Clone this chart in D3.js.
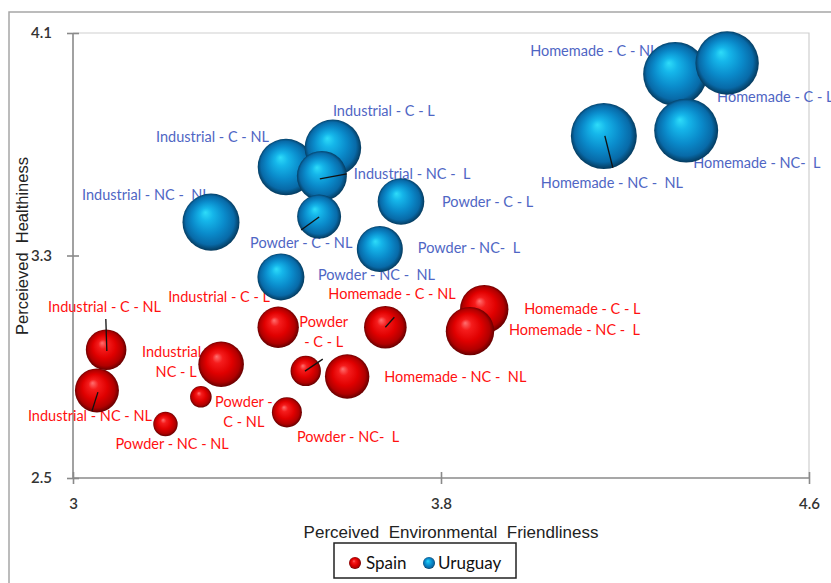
<!DOCTYPE html>
<html><head><meta charset="utf-8">
<script src="https://cdn.jsdelivr.net/npm/d3@7"></script>
<style>
body{margin:0;background:#fff}
svg{display:block}
text{white-space:pre}
</style>
</head><body>
<svg id="chart" width="831" height="583"></svg>
<script>
// ---------- DATA ----------
const categories = [
  "Industrial - C - NL", "Industrial - C - L", "Industrial - NC - NL", "Industrial - NC - L",
  "Powder - C - NL", "Powder - C - L", "Powder - NC - NL", "Powder - NC - L",
  "Homemade - C - NL", "Homemade - C - L", "Homemade - NC - NL", "Homemade - NC - L"
];
const seriesNames = ["Spain", "Uruguay"];

// Spain
const spainX    = [3.072, 3.446, 3.052, 3.322, 3.278, 3.506, 3.201, 3.465, 3.679, 3.894, 3.596, 3.863];
const spainY    = [2.961, 3.042, 2.815, 2.909, 2.792, 2.885, 2.694, 2.736, 3.042, 3.107, 2.865, 3.028];
const spainSize = [37.8, 39.3, 44.4, 47.7, 10.7, 21.2, 13.7, 20.7, 41.7, 53.8, 45.3, 53.8];
const spainLabels = [
  "Industrial - C - NL", "Industrial - C - L", "Industrial - NC - NL", "Industrial -\nNC - L",
  "Powder -\nC - NL", "Powder\n- C - L", "Powder - NC - NL", "Powder - NC-  L",
  "Homemade - C - NL", "Homemade - C - L", "Homemade - NC -  NL", "Homemade - NC -  L"
];

// Uruguay
const uruguayX    = [3.463, 3.565, 3.300, 3.541, 3.535, 3.713, 3.452, 3.667, 4.309, 4.422, 4.154, 4.333];
const uruguayY    = [3.618, 3.687, 3.420, 3.586, 3.440, 3.494, 3.223, 3.323, 3.953, 3.992, 3.730, 3.749];
const uruguaySize = [73.5, 73.5, 74.6, 57.4, 44.4, 49.9, 50.7, 48.6, 94.0, 92.3, 100.0, 94.0];
const uruguayLabels = [
  "Industrial - C - NL", "Industrial - C - L", "Industrial - NC -  NL", "Industrial - NC -  L",
  "Powder - C - NL", "Powder - C - L", "Powder - NC -  NL", "Powder - NC-  L",
  "Homemade - C - NL", "Homemade - C - L", "Homemade - NC -  NL", "Homemade - NC-  L"
];

const xTicks = [3, 3.8, 4.6];
const yTicks = [2.5, 3.3, 4.1];
const xTitle = "Perceived  Environmental  Friendliness";
const yTitle = "Perceieved  Healthiness";

// ---------- LAYOUT (label placement, pixels relative to bubble centre) ----------
// [dx, dy, anchor]
const spainLabelPos = [
  [-58, -43, "start"], [-110, -30, "start"], [-69, 26, "start"], [-45, -12, "middle"],
  [43, 5, "middle"], [18, -49, "middle"], [-50, 20, "start"], [10, 24.5, "start"],
  [-57, -33, "start"], [40, 0, "start"], [37, 0.5, "start"], [39, -1, "start"]
];
const uruguayLabelPos = [
  [-130, -30, "start"], [0, -37, "start"], [-129, -27, "start"], [32, -2, "start"],
  [-69, 26.5, "start"], [41, 0.5, "start"], [37, -2, "start"], [38, -1, "start"],
  [-145, -23, "start"], [-10, 34, "start"], [-63, 47, "start"], [7, 32.5, "start"]
];
// leader lines: [index, x1, y1, x2, y2] relative to bubble centre
const spainLeaders = [[0, 0.7, 1.3, -0.3, -30.7], [2, 1, 1.7, -5, 20.7], [5, -0.8, 0.2, 17, -11.8], [8, 0, 0, 9, -10]];
const uruguayLeaders = [[3, -2, 3, 25, -2], [4, 0, 0.5, -18, 13.5], [10, 1, 0, 9, 32]];

// ---------- CHART ----------
const svg = d3.select("#chart");
const plot = {left: 73, right: 809, top: 33, bottom: 478};

const x = d3.scaleLinear().domain([3, 4.6]).range([plot.left, plot.right]);
const y = d3.scaleLinear().domain([2.5, 4.1]).range([plot.bottom, plot.top]);
const r = d3.scaleSqrt().domain([0, 100]).range([0, 33]);

// gradients
const defs = svg.append("defs");
function sphere(id, stops) {
  const g = defs.append("radialGradient").attr("id", id)
    .attr("cx", "50%").attr("cy", "50%").attr("r", "52%")
    .attr("fx", "40%").attr("fy", "33%");
  stops.forEach(s => g.append("stop").attr("offset", s[0]).attr("stop-color", s[1]));
}
sphere("gBlue", [["0%", "#2edcf9"], ["22%", "#15b6ea"], ["55%", "#0a8bcb"], ["82%", "#086aa8"], ["100%", "#04314f"]]);
sphere("gRed",  [["0%", "#ff7070"], ["22%", "#f51c1c"], ["55%", "#e00000"], ["82%", "#b00000"], ["100%", "#560000"]]);

// outer chart border
svg.append("rect").attr("x", 9).attr("y", 12).attr("width", 900).attr("height", 700)
  .attr("fill", "none").attr("stroke", "#a6a6a6").attr("stroke-width", 1.5);

// plot border (top/right)
svg.append("path")
  .attr("d", `M${plot.left},${plot.top}H${plot.right}V${plot.bottom}`)
  .attr("fill", "none").attr("stroke", "#cfcfcf").attr("stroke-width", 1.2);

// axes
const axisColor = "#8a8a8a";
const gx = svg.append("g").attr("transform", `translate(0,${plot.bottom})`)
  .call(d3.axisBottom(x).tickValues(xTicks).tickFormat(d3.format("")).tickSize(6).tickPadding(14));
gx.selectAll(".tick line").attr("y1", -6).attr("y2", 6);
const gy = svg.append("g").attr("transform", `translate(${plot.left},0)`)
  .call(d3.axisLeft(y).tickValues(yTicks).tickFormat(d3.format(".1f")).tickSize(6).tickPadding(15));
gy.selectAll(".tick line").attr("x1", -6).attr("x2", 6);
[gx, gy].forEach(g => {
  g.select(".domain").attr("stroke", axisColor).attr("stroke-width", 1.6);
  g.selectAll(".tick line").attr("stroke", axisColor).attr("stroke-width", 1.6);
  g.selectAll(".tick text").attr("font-family", "Lato, Carlito, sans-serif")
    .attr("font-size", 15).attr("font-weight", 600).attr("fill", "#333");
});
gx.select(".domain").attr("d", `M${plot.left},0H${plot.right}`);
gy.select(".domain").attr("d", `M0,${plot.bottom}V${plot.top}`);

// axis titles
svg.append("text").attr("x", 451).attr("y", 532).attr("text-anchor", "middle")
  .attr("dominant-baseline", "central")
  .attr("font-family", "'Liberation Sans', Arial, sans-serif").attr("font-size", 17).attr("fill", "#222")
  .text(xTitle);
svg.append("text").attr("transform", "translate(22,246) rotate(-90)").attr("text-anchor", "middle")
  .attr("dominant-baseline", "central")
  .attr("font-family", "'Liberation Sans', Arial, sans-serif").attr("font-size", 16.5).attr("fill", "#222")
  .text(yTitle);

// build series
const series = [
  {name: seriesNames[0], xs: spainX, ys: spainY, ss: spainSize, labels: spainLabels, pos: spainLabelPos,
   leaders: spainLeaders, fill: "url(#gRed)", labelColor: "#ff1010"},
  {name: seriesNames[1], xs: uruguayX, ys: uruguayY, ss: uruguaySize, labels: uruguayLabels, pos: uruguayLabelPos,
   leaders: uruguayLeaders, fill: "url(#gBlue)", labelColor: "#4f66c4"}
];
series.forEach(s => {
  s.points = categories.map((c, i) => ({cat: c, x: s.xs[i], y: s.ys[i], size: s.ss[i], label: s.labels[i], pos: s.pos[i]}));
});

// labels (drawn beneath bubbles)
const labelLayer = svg.append("g");
series.forEach(s => {
  s.points.forEach(p => {
    const lines = p.label.split("\n");
    const t = labelLayer.append("text")
      .attr("font-family", "Lato, Carlito, sans-serif").attr("font-size", 14.5)
      .attr("fill", s.labelColor).attr("text-anchor", p.pos[2]);
    lines.forEach((ln, k) => {
      t.append("tspan").attr("x", x(p.x) + p.pos[0]).attr("y", y(p.y) + p.pos[1] + k * 20)
        .attr("dy", "0.35em").text(ln);
    });
  });
});

// bubbles
series.forEach(s => {
  svg.append("g").selectAll("circle").data(s.points).join("circle")
    .attr("cx", d => x(d.x)).attr("cy", d => y(d.y)).attr("r", d => r(d.size))
    .attr("fill", s.fill);
});

// leader lines
series.forEach(s => {
  s.leaders.forEach(l => {
    const p = s.points[l[0]];
    svg.append("line")
      .attr("x1", x(p.x) + l[1]).attr("y1", y(p.y) + l[2])
      .attr("x2", x(p.x) + l[3]).attr("y2", y(p.y) + l[4])
      .attr("stroke", "#111").attr("stroke-width", 1.3);
  });
});

// legend
const lg = svg.append("g");
lg.append("rect").attr("x", 334).attr("y", 543).attr("width", 182).attr("height", 35)
  .attr("fill", "#fff").attr("stroke", "#222").attr("stroke-width", 1.5);
const legendItems = [
  {name: seriesNames[0], fill: "url(#gRed)", cx: 355, tx: 366},
  {name: seriesNames[1], fill: "url(#gBlue)", cx: 429, tx: 438}
];
legendItems.forEach(it => {
  lg.append("circle").attr("cx", it.cx).attr("cy", 563).attr("r", 6).attr("fill", it.fill);
  lg.append("text").attr("x", it.tx).attr("y", 562).attr("dominant-baseline", "central")
    .attr("font-family", "Lato, Carlito, sans-serif").attr("font-size", 17).attr("fill", "#111")
    .text(it.name);
});
</script>
</body></html>
